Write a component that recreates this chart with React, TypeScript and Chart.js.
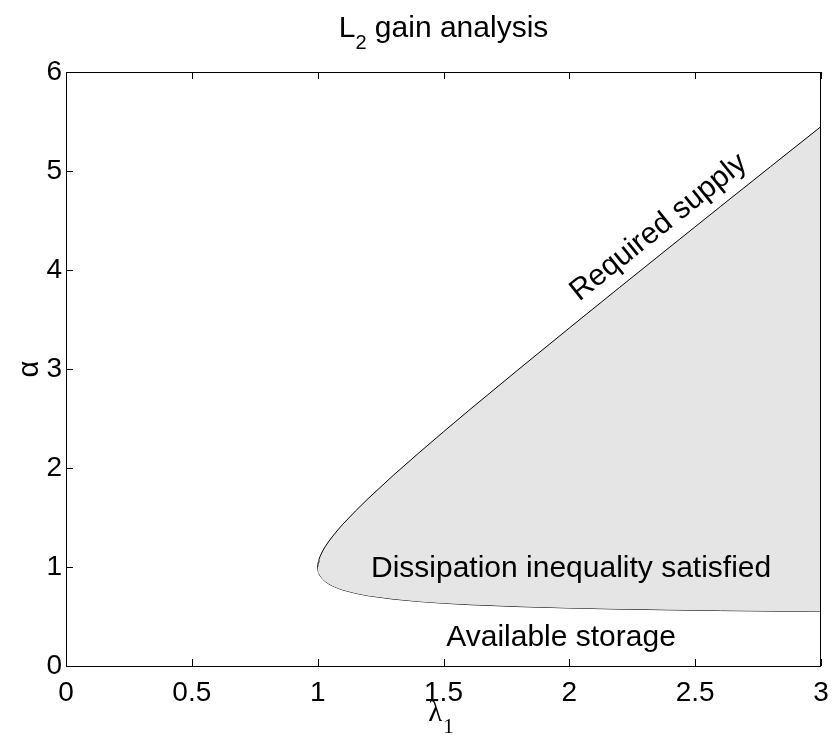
import React, { useEffect, useRef } from "react";
import { Chart, registerables } from "chart.js";

Chart.register(...registerables);

// lambda_1 values (x) and the two boundary branches of alpha
const lambdaValues = [1.0, 1.002, 1.005, 1.01, 1.02, 1.03, 1.045, 1.06, 1.08, 1.1, 1.15, 1.2, 1.3, 1.4, 1.5, 1.6, 1.8, 2.0, 2.2, 2.4, 2.6, 2.8, 3.0];
const upperAlpha = [1.0, 1.047, 1.076, 1.11, 1.163, 1.206, 1.262, 1.312, 1.374, 1.432, 1.565, 1.69, 1.925, 2.148, 2.366, 2.58, 3.0, 3.414, 3.825, 4.233, 4.64, 5.045, 5.449];
const lowerAlpha = [1.0, 0.957, 0.934, 0.91, 0.877, 0.854, 0.828, 0.808, 0.786, 0.768, 0.735, 0.71, 0.676, 0.652, 0.634, 0.62, 0.6, 0.586, 0.575, 0.567, 0.56, 0.555, 0.551];

const xTicks = [0, 0.5, 1, 1.5, 2, 2.5, 3];
const yTicks = [0, 1, 2, 3, 4, 5, 6];

const titleMain = "L";
const titleSub = "2";
const titleRest = " gain analysis";
const yLabel = "α";
const xLabelMain = "λ";
const xLabelSub = "1";
const labelSupply = "Required supply";
const labelDissipation = "Dissipation inequality satisfied";
const labelStorage = "Available storage";

const SANS = "'Liberation Sans', Arial, Helvetica, sans-serif";
const SERIF = "'Liberation Serif', 'Times New Roman', serif";

export default function App() {
  const canvasRef = useRef<HTMLCanvasElement | null>(null);

  useEffect(() => {
    const canvas = canvasRef.current;
    if (!canvas) return;

    const upper = lambdaValues.map((x, i) => ({ x, y: upperAlpha[i] }));
    const lower = lambdaValues.map((x, i) => ({ x, y: lowerAlpha[i] }));

    const decor = {
      id: "decor",
      beforeDatasetsDraw(chart: any) {
        const { ctx, chartArea: a, scales } = chart;
        const xs = scales.x;
        const ys = scales.y;
        ctx.save();
        ctx.strokeStyle = "#000";
        ctx.lineWidth = 1;
        const tl = 7;
        ctx.beginPath();
        xTicks.forEach((v) => {
          const px = Math.round(xs.getPixelForValue(v)) + 0.5;
          ctx.moveTo(px, a.bottom);
          ctx.lineTo(px, a.bottom - tl);
          ctx.moveTo(px, a.top);
          ctx.lineTo(px, a.top + tl);
        });
        yTicks.forEach((v) => {
          const py = Math.round(ys.getPixelForValue(v)) + 0.5;
          ctx.moveTo(a.left, py);
          ctx.lineTo(a.left + tl, py);
          ctx.moveTo(a.right, py);
          ctx.lineTo(a.right - tl, py);
        });
        ctx.stroke();
        ctx.restore();
      },
      afterDatasetsDraw(chart: any) {
        const { ctx, chartArea: a, scales } = chart;
        const xs = scales.x;
        const ys = scales.y;
        ctx.save();
        // axes box
        ctx.strokeStyle = "#000";
        ctx.lineWidth = 1;
        ctx.strokeRect(Math.round(a.left) + 0.5, Math.round(a.top) + 0.5, Math.round(a.right - a.left) - 1, Math.round(a.bottom - a.top));

        ctx.fillStyle = "#000";
        // Required supply, along the upper branch
        const p1x = xs.getPixelForValue(2.2), p1y = ys.getPixelForValue(3.825);
        const p2x = xs.getPixelForValue(2.6), p2y = ys.getPixelForValue(4.64);
        const ang = Math.atan2(p2y - p1y, p2x - p1x);
        const cx = xs.getPixelForValue(2.41), cy = ys.getPixelForValue(4.253);
        const off = 14;
        const nx = Math.sin(ang) * off, ny = -Math.cos(ang) * off;
        ctx.save();
        ctx.translate(cx + nx, cy + ny);
        ctx.rotate(ang);
        ctx.font = `30px ${SANS}`;
        ctx.textAlign = "center";
        ctx.textBaseline = "alphabetic";
        ctx.fillText(labelSupply, 0, 0);
        ctx.restore();

        ctx.font = `30px ${SANS}`;
        ctx.textAlign = "center";
        ctx.textBaseline = "alphabetic";
        ctx.fillText(labelDissipation, xs.getPixelForValue(2.007), ys.getPixelForValue(0.9));
        ctx.fillText(labelStorage, xs.getPixelForValue(1.967), ys.getPixelForValue(0.2));

        // title
        const cxa = (a.left + a.right) / 2;
        ctx.font = `30px ${SANS}`;
        const wMain = ctx.measureText(titleMain).width;
        const wRest = ctx.measureText(titleRest).width;
        ctx.font = `20px ${SANS}`;
        const wSub = ctx.measureText(titleSub).width;
        let tx = cxa - (wMain + wSub + wRest) / 2;
        ctx.textAlign = "left";
        ctx.font = `30px ${SANS}`;
        ctx.fillText(titleMain, tx, 37);
        tx += wMain;
        ctx.font = `20px ${SANS}`;
        ctx.fillText(titleSub, tx, 49);
        tx += wSub;
        ctx.font = `30px ${SANS}`;
        ctx.fillText(titleRest, tx, 37);

        // y label
        ctx.save();
        ctx.translate(38, (a.top + a.bottom) / 2);
        ctx.rotate(-Math.PI / 2);
        ctx.font = `29px ${SANS}`;
        ctx.textAlign = "center";
        ctx.textBaseline = "alphabetic";
        ctx.fillText(yLabel, 0, 0);
        ctx.restore();

        // x label
        ctx.font = `29px ${SERIF}`;
        ctx.textAlign = "left";
        const wl = ctx.measureText(xLabelMain).width;
        ctx.font = `21px ${SERIF}`;
        const ws = ctx.measureText(xLabelSub).width;
        let lx = cxa - (wl + ws) / 2 - 3;
        ctx.font = `29px ${SERIF}`;
        ctx.fillText(xLabelMain, lx, 721);
        ctx.font = `21px ${SERIF}`;
        ctx.fillText(xLabelSub, lx + wl + 1, 733);
        ctx.restore();
      },
    };

    const chart = new Chart(canvas, {
      type: "scatter",
      data: {
        datasets: [
          {
            label: "upper",
            data: upper,
            showLine: true,
            borderColor: "#000",
            borderWidth: 1,
            pointRadius: 0,
            backgroundColor: "#e5e5e5",
            fill: "+1",
            tension: 0,
          },
          {
            label: "lower",
            data: lower,
            showLine: true,
            borderColor: "#000",
            borderWidth: 1,
            pointRadius: 0,
            fill: false,
            tension: 0,
          },
        ],
      },
      options: {
        animation: false,
        responsive: false,
        devicePixelRatio: 1,
        layout: { padding: { top: 72, right: 14, left: 0, bottom: 0 } },
        plugins: {
          legend: { display: false },
          title: { display: false },
          tooltip: { enabled: false },
        },
        scales: {
          x: {
            type: "linear",
            min: 0,
            max: 3,
            afterBuildTicks: (s: any) => {
              s.ticks = xTicks.map((v) => ({ value: v }));
            },
            afterFit: (s: any) => {
              s.height = 69;
              s.paddingLeft = 0;
              s.paddingRight = 0;
            },
            grid: { display: false, drawTicks: false },
            border: { display: false },
            ticks: {
              color: "#000",
              padding: 10,
              maxRotation: 0,
              font: { family: SANS, size: 28 },
              callback: (v: any) => String(v),
            },
          },
          y: {
            type: "linear",
            min: 0,
            max: 6,
            afterBuildTicks: (s: any) => {
              s.ticks = yTicks.map((v) => ({ value: v }));
            },
            afterFit: (s: any) => {
              s.width = 66;
              s.paddingTop = 0;
              s.paddingBottom = 0;
            },
            grid: { display: false, drawTicks: false },
            border: { display: false },
            ticks: {
              color: "#000",
              padding: 4,
              font: { family: SANS, size: 28 },
              callback: (v: any) => String(v),
            },
          },
        },
      },
      plugins: [decor],
    } as any);

    return () => chart.destroy();
  }, []);

  return (
    <div style={{ position: "fixed", left: 0, top: 0, width: 835, height: 735, background: "#fff" }}>
      <canvas ref={canvasRef} width={835} height={735} style={{ width: 835, height: 735, display: "block" }} />
    </div>
  );
}
